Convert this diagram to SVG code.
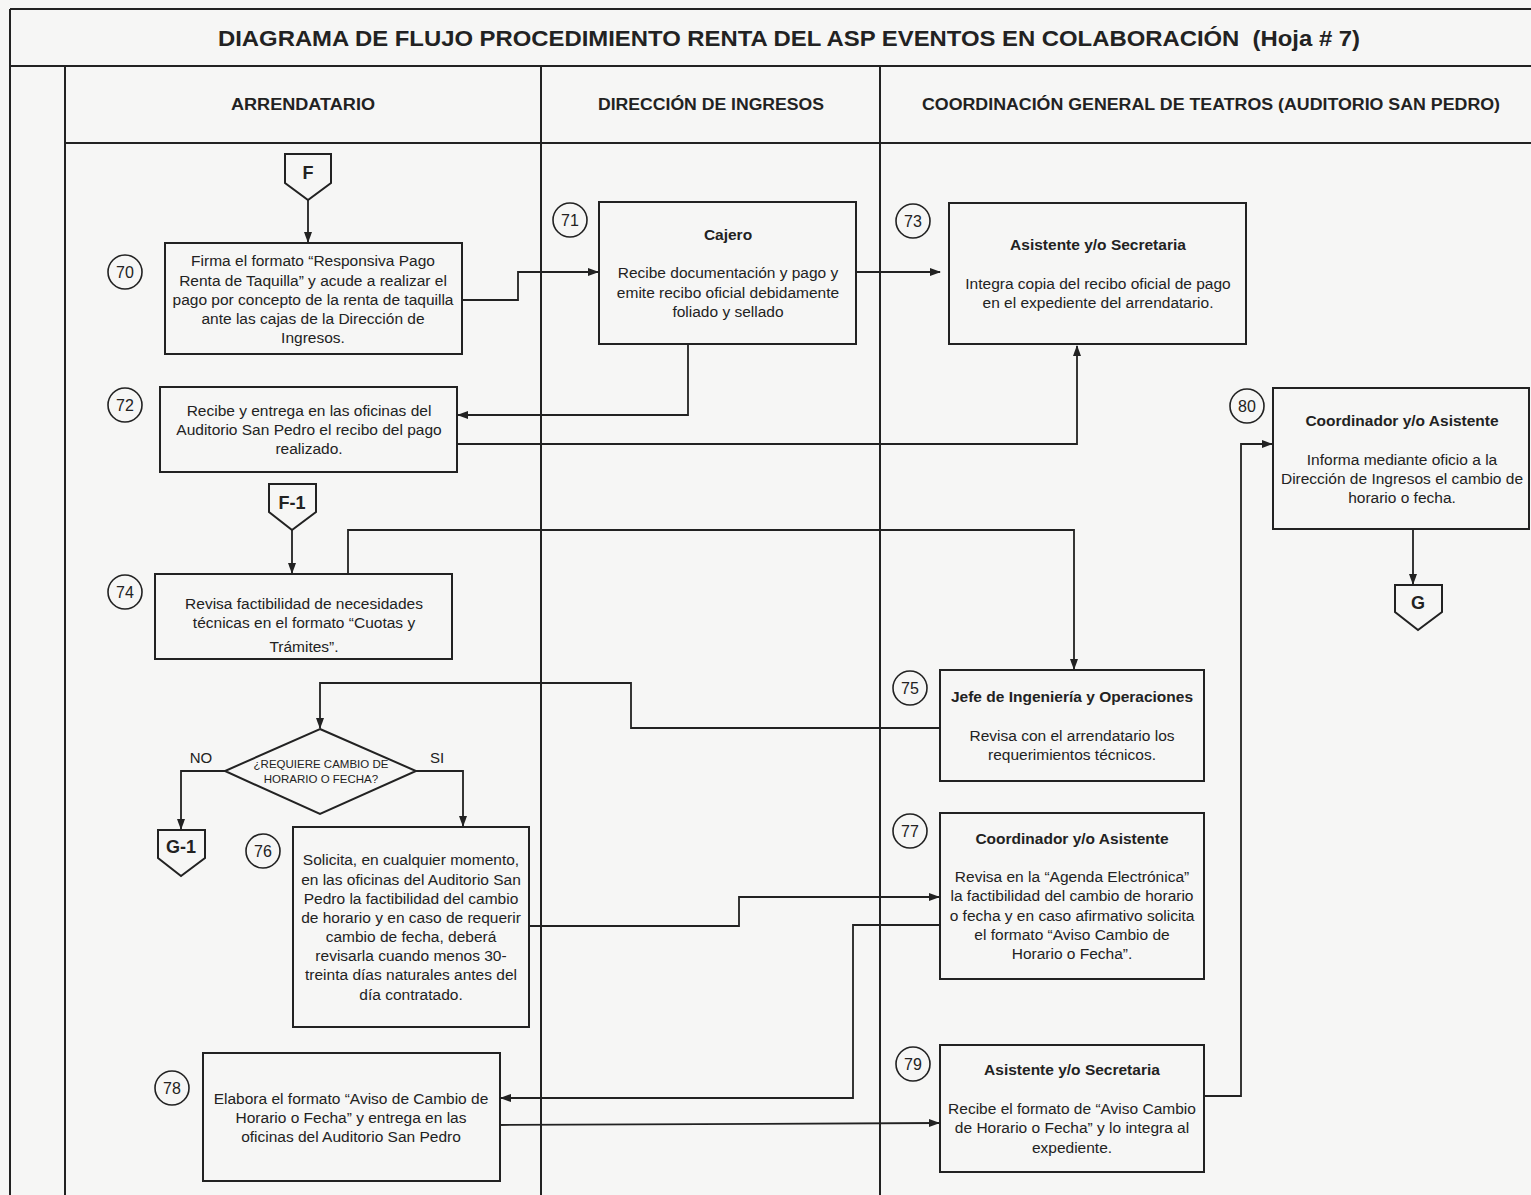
<svg xmlns="http://www.w3.org/2000/svg" width="1531" height="1195" viewBox="0 0 1531 1195">
  <style>
    .frame { fill: none; stroke: #222; stroke-width: 2; }
    .box { fill: none; stroke: #222; stroke-width: 2; }
    .num { fill: none; stroke: #222; stroke-width: 1.6; }
    .conn { fill: none; stroke: #222; stroke-width: 1.8; }
    .t { font-family: "Liberation Sans", Arial, sans-serif; font-size: 15.5px; fill: #222; text-anchor: middle; }
    .b { font-family: "Liberation Sans", Arial, sans-serif; font-size: 15.5px; font-weight: bold; fill: #222; text-anchor: middle; }
    .hdr { font-family: "Liberation Sans", Arial, sans-serif; font-size: 16px; font-weight: bold; fill: #222; text-anchor: middle; }
    .ttl { font-family: "Liberation Sans", Arial, sans-serif; font-size: 22px; font-weight: bold; fill: #222; text-anchor: middle; }
    .n { font-family: "Liberation Sans", Arial, sans-serif; font-size: 16px; fill: #222; text-anchor: middle; }
    .d { font-family: "Liberation Sans", Arial, sans-serif; font-size: 11.5px; fill: #222; text-anchor: middle; }
    .lbl { font-family: "Liberation Sans", Arial, sans-serif; font-size: 15px; fill: #222; text-anchor: middle; }
    .cl { font-family: "Liberation Sans", Arial, sans-serif; font-size: 18px; font-weight: bold; fill: #222; text-anchor: middle; }
  </style>
  <defs>
    <marker id="arrow" markerWidth="11" markerHeight="10" refX="10" refY="5" orient="auto" markerUnits="userSpaceOnUse">
      <path d="M0,1 L11,5 L0,9 Z" fill="#222"/>
    </marker>
  </defs>

  <rect x="0" y="0" width="1531" height="1195" fill="#f6f6f5"/>

  <!-- swimlane frame -->
  <g id="frame">
    <line class="frame" x1="10" y1="9" x2="1531" y2="9"/>
    <line class="frame" x1="10" y1="9" x2="10" y2="1195"/>
    <line class="frame" x1="10" y1="66" x2="1531" y2="66"/>
    <line class="frame" x1="65" y1="66" x2="65" y2="1195"/>
    <line class="frame" x1="65" y1="143" x2="1531" y2="143"/>
    <line class="frame" x1="541" y1="66" x2="541" y2="1195"/>
    <line class="frame" x1="880" y1="66" x2="880" y2="1195"/>
    <text class="ttl" x="789" y="46" textLength="1142" lengthAdjust="spacingAndGlyphs">DIAGRAMA DE FLUJO PROCEDIMIENTO RENTA DEL ASP EVENTOS EN COLABORACIÓN&#160; (Hoja # 7)</text>
    <text class="hdr" x="303" y="110" textLength="144" lengthAdjust="spacingAndGlyphs">ARRENDATARIO</text>
    <text class="hdr" x="711" y="110" textLength="226" lengthAdjust="spacingAndGlyphs">DIRECCIÓN DE INGRESOS</text>
    <text class="hdr" x="1211" y="110" textLength="578" lengthAdjust="spacingAndGlyphs">COORDINACIÓN GENERAL DE TEATROS (AUDITORIO SAN PEDRO)</text>
  </g>

  <!-- connectors -->
  <g id="connectors">
    <path class="conn" d="M308,200 L308,242" marker-end="url(#arrow)"/>
    <path class="conn" d="M462,300 L518,300 L518,272 L598,272" marker-end="url(#arrow)"/>
    <path class="conn" d="M856,272 L940,272" marker-end="url(#arrow)"/>
    <path class="conn" d="M688,344 L688,415 L458,415" marker-end="url(#arrow)"/>
    <path class="conn" d="M457,444 L1077,444 L1077,346" marker-end="url(#arrow)"/>
    <path class="conn" d="M292,530 L292,573" marker-end="url(#arrow)"/>
    <path class="conn" d="M348,574 L348,530 L1074,530 L1074,669" marker-end="url(#arrow)"/>
    <path class="conn" d="M940,728 L631,728 L631,683 L320,683 L320,728" marker-end="url(#arrow)"/>
    <path class="conn" d="M225,771 L181,771 L181,829" marker-end="url(#arrow)"/>
    <path class="conn" d="M416,771 L463,771 L463,826" marker-end="url(#arrow)"/>
    <path class="conn" d="M529,926 L739,926 L739,897 L939,897" marker-end="url(#arrow)"/>
    <path class="conn" d="M940,925 L853,925 L853,1098 L501,1098" marker-end="url(#arrow)"/>
    <path class="conn" d="M500,1125 L939,1123" marker-end="url(#arrow)"/>
    <path class="conn" d="M1204,1096 L1241,1096 L1241,444 L1272,444" marker-end="url(#arrow)"/>
    <path class="conn" d="M1413,529 L1413,584" marker-end="url(#arrow)"/>
    <text class="lbl" x="201" y="763">NO</text>
    <text class="lbl" x="437" y="763">SI</text>
  </g>

  <!-- off-page connectors -->
  <g id="conn-F">
    <path class="box" d="M285,154 L331,154 L331,183 L308,200 L285,183 Z"/>
    <text class="cl" x="308" y="179">F</text>
  </g>
  <g id="conn-F1">
    <path class="box" d="M269,484 L316,484 L316,512 L292,530 L269,512 Z"/>
    <text class="cl" x="292" y="509">F-1</text>
  </g>
  <g id="conn-G">
    <path class="box" d="M1395,585 L1442,585 L1442,612 L1418,630 L1395,612 Z"/>
    <text class="cl" x="1418" y="609">G</text>
  </g>
  <g id="conn-G1">
    <path class="box" d="M158,830 L205,830 L205,858 L181,876 L158,858 Z"/>
    <text class="cl" x="181" y="853">G-1</text>
  </g>

  <!-- step 70 -->
  <g id="step-70">
    <circle class="num" cx="125" cy="272" r="17"/>
    <text class="n" x="125" y="278">70</text>
    <rect class="box" x="165" y="243" width="297" height="111"/>
    <text class="t" x="313" y="266">Firma el formato “Responsiva Pago</text>
    <text class="t" x="313" y="286">Renta de Taquilla” y acude a realizar el</text>
    <text class="t" x="313" y="305">pago por concepto de la renta de taquilla</text>
    <text class="t" x="313" y="324">ante las cajas de la Dirección de</text>
    <text class="t" x="313" y="343">Ingresos.</text>
  </g>

  <!-- step 71 -->
  <g id="step-71">
    <circle class="num" cx="570" cy="220" r="17"/>
    <text class="n" x="570" y="226">71</text>
    <rect class="box" x="599" y="202" width="257" height="142"/>
    <text class="b" x="728" y="240">Cajero</text>
    <text class="t" x="728" y="278">Recibe documentación y pago y</text>
    <text class="t" x="728" y="298">emite recibo oficial debidamente</text>
    <text class="t" x="728" y="317">foliado y sellado</text>
  </g>

  <!-- step 73 -->
  <g id="step-73">
    <circle class="num" cx="913" cy="221" r="17"/>
    <text class="n" x="913" y="227">73</text>
    <rect class="box" x="949" y="203" width="297" height="141"/>
    <text class="b" x="1098" y="250">Asistente y/o Secretaria</text>
    <text class="t" x="1098" y="289">Integra copia del recibo oficial de pago</text>
    <text class="t" x="1098" y="308">en el expediente del arrendatario.</text>
  </g>

  <!-- step 72 -->
  <g id="step-72">
    <circle class="num" cx="125" cy="405" r="17"/>
    <text class="n" x="125" y="411">72</text>
    <rect class="box" x="160" y="387" width="297" height="85"/>
    <text class="t" x="309" y="416">Recibe y entrega en las oficinas del</text>
    <text class="t" x="309" y="435">Auditorio San Pedro el recibo del pago</text>
    <text class="t" x="309" y="454">realizado.</text>
  </g>

  <!-- step 80 -->
  <g id="step-80">
    <circle class="num" cx="1247" cy="406" r="17"/>
    <text class="n" x="1247" y="412">80</text>
    <rect class="box" x="1273" y="388" width="256" height="141"/>
    <text class="b" x="1402" y="426">Coordinador y/o Asistente</text>
    <text class="t" x="1402" y="465">Informa mediante oficio a la</text>
    <text class="t" x="1402" y="484">Dirección de Ingresos el cambio de</text>
    <text class="t" x="1402" y="503">horario o fecha.</text>
  </g>

  <!-- step 74 -->
  <g id="step-74">
    <circle class="num" cx="125" cy="592" r="17"/>
    <text class="n" x="125" y="598">74</text>
    <rect class="box" x="155" y="574" width="297" height="85"/>
    <text class="t" x="304" y="609">Revisa factibilidad de necesidades</text>
    <text class="t" x="304" y="628">técnicas en el formato “Cuotas y</text>
    <text class="t" x="304" y="652">Trámites”.</text>
  </g>

  <!-- step 75 -->
  <g id="step-75">
    <circle class="num" cx="910" cy="688" r="17"/>
    <text class="n" x="910" y="694">75</text>
    <rect class="box" x="940" y="670" width="264" height="111"/>
    <text class="b" x="1072" y="702">Jefe de Ingeniería y Operaciones</text>
    <text class="t" x="1072" y="741">Revisa con el arrendatario los</text>
    <text class="t" x="1072" y="760">requerimientos técnicos.</text>
  </g>

  <!-- decision -->
  <g id="decision">
    <path class="box" d="M320,729 L416,771 L320,814 L225,771 Z"/>
    <text class="d" x="321" y="768">¿REQUIERE CAMBIO DE</text>
    <text class="d" x="321" y="783">HORARIO O FECHA?</text>
  </g>

  <!-- step 76 -->
  <g id="step-76">
    <circle class="num" cx="263" cy="851" r="17"/>
    <text class="n" x="263" y="857">76</text>
    <rect class="box" x="293" y="827" width="236" height="200"/>
    <text class="t" x="411" y="865">Solicita, en cualquier momento,</text>
    <text class="t" x="411" y="885">en las oficinas del Auditorio San</text>
    <text class="t" x="411" y="904">Pedro la factibilidad del cambio</text>
    <text class="t" x="411" y="923">de horario y en caso de requerir</text>
    <text class="t" x="411" y="942">cambio de fecha, deberá</text>
    <text class="t" x="411" y="961">revisarla cuando menos 30-</text>
    <text class="t" x="411" y="980">treinta días naturales antes del</text>
    <text class="t" x="411" y="1000">día contratado.</text>
  </g>

  <!-- step 77 -->
  <g id="step-77">
    <circle class="num" cx="910" cy="831" r="17"/>
    <text class="n" x="910" y="837">77</text>
    <rect class="box" x="940" y="813" width="264" height="166"/>
    <text class="b" x="1072" y="844">Coordinador y/o Asistente</text>
    <text class="t" x="1072" y="882">Revisa en la “Agenda Electrónica”</text>
    <text class="t" x="1072" y="901">la factibilidad del cambio de horario</text>
    <text class="t" x="1072" y="921">o fecha y en caso afirmativo solicita</text>
    <text class="t" x="1072" y="940">el formato “Aviso Cambio de</text>
    <text class="t" x="1072" y="959">Horario o Fecha”.</text>
  </g>

  <!-- step 78 -->
  <g id="step-78">
    <circle class="num" cx="172" cy="1088" r="17"/>
    <text class="n" x="172" y="1094">78</text>
    <rect class="box" x="203" y="1053" width="297" height="128"/>
    <text class="t" x="351" y="1104">Elabora el formato “Aviso de Cambio de</text>
    <text class="t" x="351" y="1123">Horario o Fecha” y entrega en las</text>
    <text class="t" x="351" y="1142">oficinas del Auditorio San Pedro</text>
  </g>

  <!-- step 79 -->
  <g id="step-79">
    <circle class="num" cx="913" cy="1064" r="17"/>
    <text class="n" x="913" y="1070">79</text>
    <rect class="box" x="940" y="1045" width="264" height="127"/>
    <text class="b" x="1072" y="1075">Asistente y/o Secretaria</text>
    <text class="t" x="1072" y="1114">Recibe el formato de “Aviso Cambio</text>
    <text class="t" x="1072" y="1133">de Horario o Fecha” y lo integra al</text>
    <text class="t" x="1072" y="1153">expediente.</text>
  </g>
</svg>
